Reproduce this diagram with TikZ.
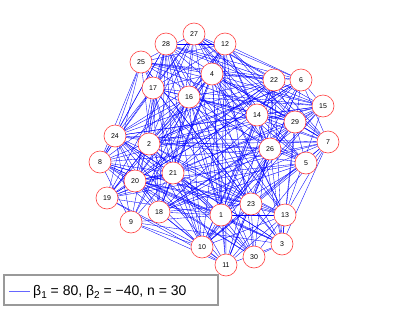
\documentclass[tikz,border=0pt]{standalone}
\usepackage{fontspec}
\setmainfont{Liberation Sans}
\usetikzlibrary{backgrounds}
\newcommand{\lsub}[1]{\raisebox{-3.5pt}{\fontsize{10}{10}\selectfont #1}}
\begin{document}
\begin{tikzpicture}[x=1pt,y=-1pt,
  vtx/.style={circle,draw=red!75,fill=white,line width=0.6pt,minimum size=22pt,inner sep=0pt,font=\fontsize{7}{8}\selectfont},
  edge/.style={blue,line width=0.35pt},
  legbox/.style={draw=gray!80,line width=1.1pt},
  legline/.style={blue!60,line width=0.6pt}]
\useasboundingbox (0,0) rectangle (415,311);
\foreach \n/\x/\y in {1/221/215,2/149/144,3/282/244,4/212/74,5/306/163,6/301/80,7/328/142,8/100/162,9/131/222,10/202/247,11/226/265,12/225/44,13/285/215,14/257/115,15/323/106,16/189/97,17/153/88,18/159/212,19/107/198,20/135/181,21/173/173,22/274/80,23/251/204,24/115/136,25/141/62,26/270/149,27/194/34,28/166/44,29/295/122,30/254/257}
  \node[vtx] (n\n) at (\x,\y) {\n};
\begin{pgfonlayer}{background}
\pgfmathsetseed{4242}
\foreach \i in {1,...,29}{
  \pgfmathtruncatemacro{\s}{\i+1}
  \foreach \j in {\s,...,30}{
    \pgfmathtruncatemacro{\e}{rnd<0.6}
    \ifnum\e=1 \draw[edge] (n\i) -- (n\j);\fi
  }}
\end{pgfonlayer}
\draw[legbox] (4,275) rectangle (218,305);
\coordinate (la) at (9,291);
\coordinate (lb) at (30,291);
\draw[legline] (la) -- (lb);
\node[anchor=base west,inner sep=0pt,font=\fontsize{14}{16}\selectfont] (leg) at (33,295) {β\lsub{1} = 80, β\lsub{2} = −40, n = 30};
\end{tikzpicture}
\end{document}
